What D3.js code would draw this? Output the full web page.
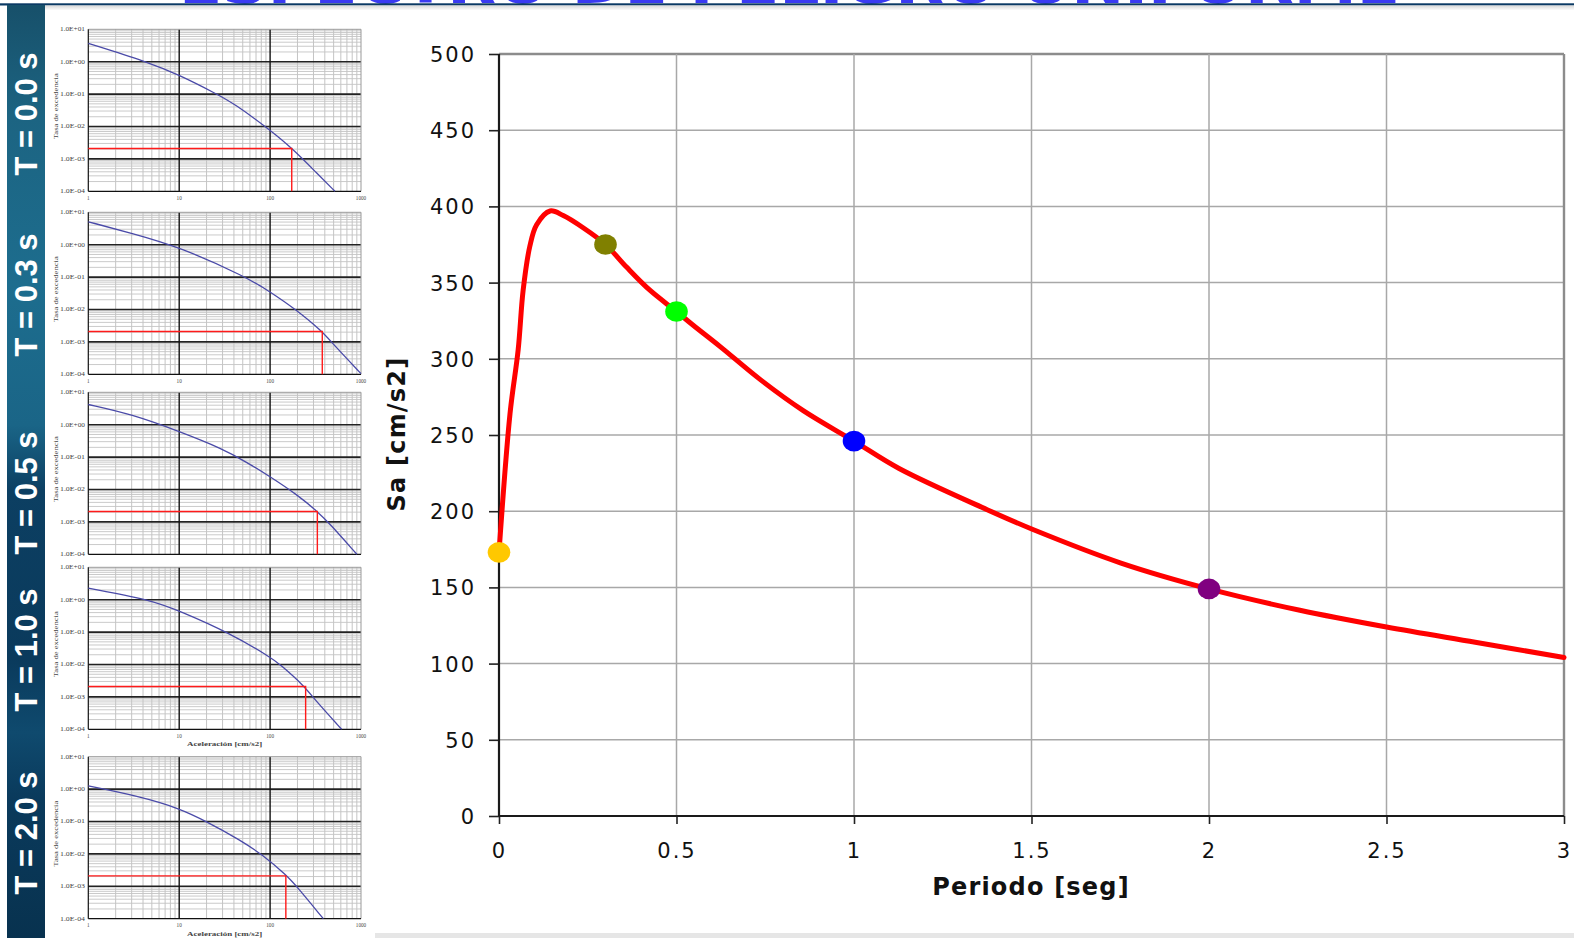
<!DOCTYPE html>
<html><head><meta charset="utf-8">
<script src="https://cdn.jsdelivr.net/npm/d3@7"></script>
<style>
html,body{margin:0;padding:0;background:#fff;overflow:hidden}
svg{display:block}
</style></head><body>
<svg id="c" width="1574" height="938"></svg>
<script>
// ---------- DATA ----------
const titleText = "ESPECTRO DE PELIGRO UNIFORME";
const periods = [0, 0.031, 0.054, 0.068, 0.087, 0.106, 0.144, 0.181, 0.237, 0.30, 0.36, 0.425, 0.50, 0.547, 0.623, 0.738, 0.857, 1.0, 1.127, 1.375, 1.504, 1.752, 2.0, 2.256, 2.5, 2.75, 3.0];
const saValues = [173, 264, 306, 345, 374, 388, 397, 394, 386, 375, 360, 345, 331, 322, 308, 286, 266, 246, 228, 201, 188, 166, 149, 135, 124, 114, 104];
const markerT = [0, 0.3, 0.5, 1.0, 2.0];
const markerSa = [173, 375, 331, 246, 149];
const markerColors = ["#ffc800", "#808000", "#00ff00", "#0000ff", "#800080"];
const yTicks = [0, 50, 100, 150, 200, 250, 300, 350, 400, 450, 500];
const xTicks = [0, 0.5, 1, 1.5, 2, 2.5, 3];
const xTickLabels = ["0", "0.5", "1", "1.5", "2", "2.5", "3"];
const xTitle = "Periodo [seg]";
const yTitle = "Sa [cm/s2]";

const panelLabels = ["T = 0.0 s", "T = 0.3 s", "T = 0.5 s", "T = 1.0 s", "T = 2.0 s"];
const designRate = 0.0021;
const hazardSa_T00 = [1, 4.4, 10, 26, 40, 100, 179, 331, 517];
const hazardRate_T00 = [3.7, 1.0, 0.39, 0.1, 0.0514, 0.0078, 0.002, 0.00035, 0.0001];
const hazardSa_T03 = [1, 3.1, 10, 55, 100, 188, 376, 476, 1000];
const hazardRate_T03 = [5.1, 2.2, 0.86, 0.1, 0.035, 0.0105, 0.0021, 0.00095, 0.000105];
const hazardSa_T05 = [1, 3, 10, 30, 55, 100, 200, 331, 450, 900];
const hazardRate_T05 = [4.2, 2.1, 0.62, 0.18, 0.07, 0.025, 0.0068, 0.0021, 0.0009, 0.0001];
const hazardSa_T10 = [1, 4.76, 10, 36, 100, 129, 238, 298, 612];
const hazardRate_T10 = [2.27, 1.0, 0.455, 0.093, 0.017, 0.01, 0.00215, 0.00093, 0.0001];
const hazardSa_T20 = [1, 3.7, 9.8, 20, 46.7, 82.8, 152, 196, 385];
const hazardRate_T20 = [1.25, 0.59, 0.26, 0.1, 0.027, 0.0093, 0.00216, 0.001, 0.0001];
const smallYTickLabels = ["1.0E-04", "1.0E-03", "1.0E-02", "1.0E-01", "1.0E+00", "1.0E+01"];
const smallYTickValues = [1e-4, 1e-3, 1e-2, 1e-1, 1, 10];
const smallXTickValues = [1, 10, 100, 1000];
const smallXTickLabels = ["1", "10", "100", "1000"];
const smallYTitle = "Tasa de excedencia";
const smallXTitle = "Aceleración [cm/s2]";

// ---------- DRAW ----------
const svg = d3.select("#c");
const defs = svg.append("defs");
const g1 = defs.append("linearGradient").attr("id", "strip").attr("x1", 0).attr("y1", 0).attr("x2", 0).attr("y2", 1);
[[0, "#17506a"], [0.12, "#1c6482"], [0.3, "#1d6d8e"], [0.45, "#1a6587"], [0.52, "#0c3f62"], [0.7, "#0a3a5c"], [0.78, "#0f4a6e"], [0.85, "#0a3a5c"], [1, "#08324f"]]
  .forEach(([o, c]) => g1.append("stop").attr("offset", o).attr("stop-color", c));
const g2 = defs.append("linearGradient").attr("id", "topfade").attr("x1", 0).attr("y1", 0).attr("x2", 0).attr("y2", 1);
g2.append("stop").attr("offset", 0).attr("stop-color", "#d8d8d8");
g2.append("stop").attr("offset", 1).attr("stop-color", "#ffffff");

svg.append("rect").attr("width", 1574).attr("height", 938).attr("fill", "#fff");

// title (mostly clipped off the top, as in the slide)
svg.append("text").text(titleText)
  .attr("x", 179).attr("y", 3.2)
  .attr("textLength", 1221).attr("lengthAdjust", "spacingAndGlyphs")
  .attr("font-family", "DejaVu Sans").attr("font-weight", "bold").attr("font-size", 58)
  .attr("fill", "#3a3af2");
svg.append("rect").attr("x", 0).attr("y", 3.3).attr("width", 1574).attr("height", 2.2).attr("fill", "#0b3a64");
svg.append("rect").attr("x", 45).attr("y", 5.5).attr("width", 1529).attr("height", 5).attr("fill", "url(#topfade)");

// left strip
svg.append("rect").attr("x", 7).attr("y", 5).attr("width", 38).attr("height", 933).attr("fill", "url(#strip)");
const labelCY = [114, 295, 493, 650, 833];
panelLabels.forEach((t, i) => {
  svg.append("text").text(t)
    .attr("transform", `translate(36.5,${labelCY[i]}) rotate(-90)`)
    .attr("text-anchor", "middle")
    .attr("font-family", "Liberation Sans").attr("font-weight", "bold").attr("font-size", 31)
    .attr("fill", "#ffffff");
});

// bottom gray strip
svg.append("rect").attr("x", 375).attr("y", 933).attr("width", 1199).attr("height", 5).attr("fill", "#e6e6e6");

// ---------- small hazard charts ----------
const smallTops = [29.3, 212.3, 392.3, 567.3, 756.7];
const smallH = 162;
const hazards = [
  [hazardSa_T00, hazardRate_T00], [hazardSa_T03, hazardRate_T03], [hazardSa_T05, hazardRate_T05],
  [hazardSa_T10, hazardRate_T10], [hazardSa_T20, hazardRate_T20]
];
const showXLabels = [true, true, false, true, true];
const showXTitle = [false, false, false, true, true];
const minorX = [];
[1, 10, 100].forEach(d => { for (let k = 2; k <= 9; k++) minorX.push(k * d); });
const minorY = [];
[1e-4, 1e-3, 1e-2, 1e-1, 1].forEach(d => { for (let k = 2; k <= 9; k++) minorY.push(k * d); });

smallTops.forEach((top, i) => {
  const g = svg.append("g");
  const xs = d3.scaleLog().domain([1, 1000]).range([88.3, 361]);
  const ys = d3.scaleLog().domain([1e-4, 10]).range([top + smallH, top]);
  g.append("rect").attr("x", 46).attr("y", top - 9).attr("width", 322).attr("height", smallH + 30).attr("fill", "#fff");
  g.selectAll(".mx").data(minorX).join("line")
    .attr("x1", d => xs(d)).attr("x2", d => xs(d)).attr("y1", top).attr("y2", top + smallH)
    .attr("stroke", "#c4c4c4").attr("stroke-width", 1);
  g.selectAll(".my").data(minorY).join("line")
    .attr("x1", xs(1)).attr("x2", xs(1000)).attr("y1", d => ys(d)).attr("y2", d => ys(d))
    .attr("stroke", "#c4c4c4").attr("stroke-width", 0.9);
  g.selectAll(".MY").data(smallYTickValues.slice(1, 5)).join("line")
    .attr("x1", xs(1)).attr("x2", xs(1000)).attr("y1", d => ys(d)).attr("y2", d => ys(d))
    .attr("stroke", "#222").attr("stroke-width", 1.6);
  g.selectAll(".MX").data([10, 100]).join("line")
    .attr("x1", d => xs(d)).attr("x2", d => xs(d)).attr("y1", top).attr("y2", top + smallH)
    .attr("stroke", "#111").attr("stroke-width", 1.4);
  g.append("line").attr("x1", xs(1)).attr("x2", xs(1000)).attr("y1", top).attr("y2", top).attr("stroke", "#999").attr("stroke-width", 1);
  g.append("line").attr("x1", xs(1000)).attr("x2", xs(1000)).attr("y1", top).attr("y2", top + smallH).attr("stroke", "#999").attr("stroke-width", 1);
  g.append("line").attr("x1", xs(1)).attr("x2", xs(1)).attr("y1", top).attr("y2", top + smallH).attr("stroke", "#111").attr("stroke-width", 1.2);
  g.append("line").attr("x1", xs(1)).attr("x2", xs(1000)).attr("y1", top + smallH).attr("y2", top + smallH).attr("stroke", "#111").attr("stroke-width", 1.2);
  g.selectAll(".yl").data(smallYTickValues).join("text")
    .attr("x", 85).attr("y", d => ys(d) + 1.8).attr("text-anchor", "end")
    .attr("textLength", 25).attr("lengthAdjust", "spacingAndGlyphs")
    .attr("font-family", "Liberation Serif").attr("font-size", 5.2).attr("fill", "#444")
    .text((d, j) => smallYTickLabels[j]);
  g.append("text").text(smallYTitle)
    .attr("transform", `translate(58,${top + smallH / 2 - 4}) rotate(-90)`).attr("text-anchor", "middle")
    .attr("textLength", 66).attr("lengthAdjust", "spacingAndGlyphs")
    .attr("font-family", "Liberation Serif").attr("font-size", 6).attr("fill", "#444");
  if (showXLabels[i]) {
    g.selectAll(".xl").data(smallXTickValues).join("text")
      .attr("x", d => xs(d)).attr("y", top + smallH + 8.5).attr("text-anchor", "middle")
      .attr("font-family", "Liberation Serif").attr("font-size", 5.2).attr("fill", "#444")
      .text((d, j) => smallXTickLabels[j]);
  }
  if (showXTitle[i]) {
    g.append("text").text(smallXTitle)
      .attr("x", xs(31.6)).attr("y", top + smallH + 17).attr("text-anchor", "middle")
      .attr("textLength", 75).attr("lengthAdjust", "spacingAndGlyphs")
      .attr("font-family", "Liberation Serif").attr("font-weight", "bold").attr("font-size", 6.5).attr("fill", "#444");
  }
  const [sa, rate] = hazards[i];
  const pts = sa.map((s, j) => [s, rate[j]]);
  g.append("path").datum(pts)
    .attr("d", d3.line().x(d => xs(d[0])).y(d => ys(d[1])).curve(d3.curveBasis))
    .attr("fill", "none").attr("stroke", "#4a4aa8").attr("stroke-width", 1.3);
  g.append("path")
    .attr("d", d3.line()([[xs(1), ys(designRate)], [xs(markerSa[i]), ys(designRate)], [xs(markerSa[i]), ys(1e-4)]]))
    .attr("fill", "none").attr("stroke", "#ff1a1a").attr("stroke-width", 1.4);
});

// ---------- main chart ----------
const x = d3.scaleLinear().domain([0, 3]).range([499, 1564]);
const y = d3.scaleLinear().domain([0, 500]).range([816, 54]);
const main = svg.append("g");

main.selectAll(".hg").data(yTicks.filter(v => v > 0)).join("line")
  .attr("x1", x(0)).attr("x2", x(3)).attr("y1", d => y(d)).attr("y2", d => y(d))
  .attr("stroke", d => d === 500 ? "#8c8c8c" : "#a8a8a8").attr("stroke-width", d => d === 500 ? 2.6 : 1.5);
main.selectAll(".vg").data(xTicks.filter(v => v > 0)).join("line")
  .attr("x1", d => x(d)).attr("x2", d => x(d)).attr("y1", y(500)).attr("y2", y(0))
  .attr("stroke", d => d === 3 ? "#8c8c8c" : "#a8a8a8").attr("stroke-width", d => d === 3 ? 2.4 : 1.5);

const yAxis = d3.axisLeft(y).tickValues(yTicks).tickSize(10).tickPadding(13).tickFormat(d3.format("d"));
const xAxis = d3.axisBottom(x).tickValues(xTicks).tickSize(8).tickPadding(19).tickFormat((d, i) => xTickLabels[i]);
const ya = main.append("g").attr("transform", `translate(${x(0)},0)`).call(yAxis);
const xa = main.append("g").attr("transform", `translate(0,${y(0)})`).call(xAxis);
[ya, xa].forEach(a => {
  a.select(".domain").remove();
  a.selectAll(".tick line").attr("stroke", "#222").attr("stroke-width", 1.6);
  a.selectAll(".tick text").attr("font-family", "DejaVu Sans").attr("font-size", 21)
    .attr("letter-spacing", "2px").attr("fill", "#111");
});
ya.selectAll(".tick text").attr("dy", "0.36em");
main.append("line").attr("x1", x(0)).attr("x2", x(0)).attr("y1", y(500)).attr("y2", y(0)).attr("stroke", "#1a1a1a").attr("stroke-width", 2.2);
main.append("line").attr("x1", x(0)).attr("x2", x(3)).attr("y1", y(0)).attr("y2", y(0)).attr("stroke", "#1a1a1a").attr("stroke-width", 2.2);

main.append("text").text(xTitle)
  .attr("x", 1031).attr("y", 895).attr("text-anchor", "middle")
  .attr("font-family", "DejaVu Sans").attr("font-weight", "bold").attr("font-size", 24)
  .attr("letter-spacing", "1.2px").attr("fill", "#111");
main.append("text").text(yTitle)
  .attr("transform", "translate(405,434) rotate(-90)").attr("text-anchor", "middle")
  .attr("font-family", "DejaVu Sans").attr("font-weight", "bold").attr("font-size", 24)
  .attr("letter-spacing", "1.2px").attr("fill", "#111");

const spec = periods.map((t, i) => [t, saValues[i]]);
main.append("path").datum(spec)
  .attr("d", d3.line().x(d => x(d[0])).y(d => y(d[1])).curve(d3.curveCatmullRom.alpha(0.5)))
  .attr("fill", "none").attr("stroke", "#ff0000").attr("stroke-width", 5)
  .attr("stroke-linejoin", "round").attr("stroke-linecap", "round");

main.selectAll(".mk").data(markerT).join("ellipse")
  .attr("cx", d => x(d)).attr("cy", (d, i) => y(markerSa[i]))
  .attr("rx", 11.3).attr("ry", 10.3)
  .attr("fill", (d, i) => markerColors[i]);
</script>
</body></html>
